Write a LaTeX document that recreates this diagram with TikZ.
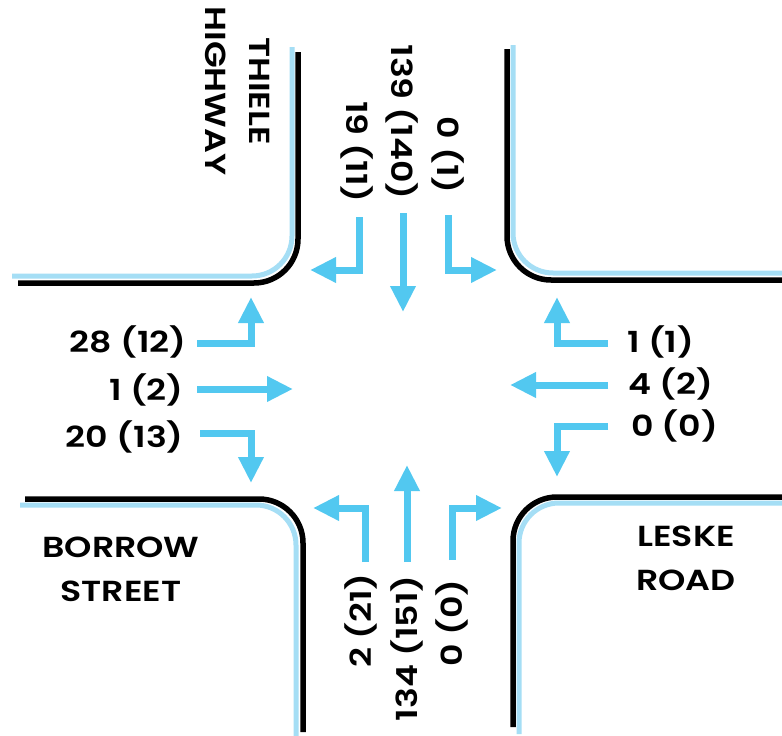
\documentclass[tikz,border=0pt]{standalone}
\usepackage{fontspec}
\setmainfont{Poppins}[FakeStretch=1.2, BoldFont={Poppins SemiBold}]
\usetikzlibrary{arrows.meta}
\definecolor{arrowblue}{RGB}{82,200,240}
\definecolor{shadowblue}{RGB}{165,222,245}
\begin{document}
\begin{tikzpicture}[x=1pt,y=-1pt,
  curb/.style={line width=5.5pt, black, rounded corners=44pt},
  shade/.style={line width=5pt, shadowblue, rounded corners=40pt},
  flow/.style={line width=7pt, arrowblue, line join=miter, -{Triangle[width=24pt,length=26pt]}},
  lbl/.style={font=\bfseries\fontsize{29}{30}\selectfont, inner sep=0pt},
  roadname/.style={font=\bfseries\fontsize{29}{44}\selectfont, align=center, inner sep=0pt}]
\useasboundingbox (0,0) rectangle (782,736);
\fill[white] (0,0) rectangle (782,736);
% curbs: shadows
\draw[shade] (12,276) -- (292,276) -- (292,47);
\draw[shade] (513,45) -- (513,273) -- (782,273);
\draw[shade] (20,505) -- (296,505) -- (296,736);
\draw[shade] (782,503) -- (519,503) -- (519,734);
% curbs: black
\draw[curb] (18,283) -- (298,283) -- (298,52);
\draw[curb] (507,49) -- (507,280) -- (782,280);
\draw[curb] (25,499) -- (303,499) -- (303,732);
\draw[curb] (782,497) -- (513,497) -- (513,727);
% coordinates
\coordinate (sR0) at (359,217); \coordinate (sR1) at (359,270); \coordinate (sRt) at (310,270);
\coordinate (sT0) at (403,213); \coordinate (sTt) at (403,312);
\coordinate (sL0) at (448,215); \coordinate (sL1) at (448,270); \coordinate (sLt) at (497,270);
\coordinate (eL0) at (197,343); \coordinate (eL1) at (251,343); \coordinate (eLt) at (251,297);
\coordinate (eT0) at (197,389); \coordinate (eTt) at (293,389);
\coordinate (eR0) at (200,433); \coordinate (eR1) at (251,433); \coordinate (eRt) at (251,483);
\coordinate (wR0) at (608,343); \coordinate (wR1) at (557,343); \coordinate (wRt) at (557,297);
\coordinate (wT0) at (608,385); \coordinate (wTt) at (510,385);
\coordinate (wL0) at (608,426); \coordinate (wL1) at (557,426); \coordinate (wLt) at (557,477);
\coordinate (nL0) at (365,562); \coordinate (nL1) at (365,508); \coordinate (nLt) at (313,508);
\coordinate (nT0) at (407,562); \coordinate (nTt) at (407,465);
\coordinate (nR0) at (452,560); \coordinate (nR1) at (452,508); \coordinate (nRt) at (502,508);
% arrows
\draw[flow] (sR0) -- (sR1) -- (sRt);
\draw[flow] (sT0) -- (sTt);
\draw[flow] (sL0) -- (sL1) -- (sLt);
\draw[flow] (eL0) -- (eL1) -- (eLt);
\draw[flow] (eT0) -- (eTt);
\draw[flow] (eR0) -- (eR1) -- (eRt);
\draw[flow] (wR0) -- (wR1) -- (wRt);
\draw[flow] (wT0) -- (wTt);
\draw[flow] (wL0) -- (wL1) -- (wLt);
\draw[flow] (nL0) -- (nL1) -- (nLt);
\draw[flow] (nT0) -- (nTt);
\draw[flow] (nR0) -- (nR1) -- (nRt);
% labels
\node[lbl, rotate=-90, anchor=east] (ls1) at (357,203) {19 (11)};
\node[lbl, rotate=-90, anchor=east] (ls2) at (402,200) {139 (140)};
\node[lbl, rotate=-90, anchor=east] (ls3) at (448,194) {0 (1)};
\node[lbl, anchor=east] (le1) at (187,342) {28 (12)};
\node[lbl, anchor=east] (le2) at (184,390) {1 (2)};
\node[lbl, anchor=east] (le3) at (184,437) {20 (13)};
\node[lbl, anchor=west] (lw1) at (627,342) {1 (1)};
\node[lbl, anchor=west] (lw2) at (628,384) {4 (2)};
\node[lbl, anchor=west] (lw3) at (631,426) {0 (0)};
\node[lbl, rotate=90, anchor=east] (ln1) at (361,573) {2 (21)};
\node[lbl, rotate=90, anchor=east] (ln2) at (407,575) {134 (151)};
\node[lbl, rotate=90, anchor=east] (ln3) at (452,579) {0 (0)};
% road names
\node[roadname, rotate=-90] (thiele) at (238,91) {THIELE\\HIGHWAY};
\node[roadname] (borrow) at (121,569) {BORROW\\STREET};
\node[roadname] (leske) at (686,558) {LESKE\\ROAD};
\end{tikzpicture}
\end{document}
